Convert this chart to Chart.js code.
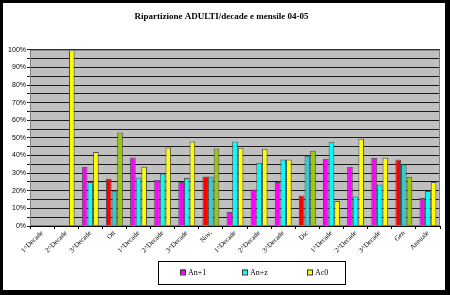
<!DOCTYPE html>
<html>
<head>
<meta charset="utf-8">
<script src="https://cdn.jsdelivr.net/npm/chart.js@4.4.1/dist/chart.umd.min.js"></script>
<style>
  html, body { margin: 0; padding: 0; background: #000; }
  #wrap { position: absolute; left: 3px; top: 3px; width: 442px; height: 287px; background: #fff; }
</style>
</head>
<body>
<div id="wrap"><canvas id="chart" width="442" height="287"></canvas></div>
<script>
const categories = ['1^Decade', '2^Decade', '3^Decade', 'Ott', '1^Decade', '2^Decade', '3^Decade', 'Nov.',
  '1^Decade', '2^Decade', '3^Decade', 'Dic', '1^Decade', '2^Decade', '3^Decade', 'Gen', 'Annuale'];
// monthly totals get their own colours
const isMonth = [false, false, false, true, false, false, false, true, false, false, false, true, false, false, false, true, false];

const anPiu1 = [0, 0, 33.6, 26.8, 38.9, 26.2, 25, 28.1, 8, 20.7, 25, 17.3, 38.1, 33.6, 38.7, 37.8, 15.9];
const anPiuZ = [0, 0, 25, 20, 27.5, 29.8, 27.3, 28.1, 48, 35.9, 37.8, 39.8, 47.8, 16.7, 23.5, 34.9, 19.9];
const ac0 = [0, 100, 42, 53.1, 33.6, 44.6, 48, 44, 44.4, 43.8, 37.8, 42.7, 14.2, 49.5, 38.7, 27.9, 25];

const seriesNames = ['An+1', 'An+z', 'Ac0'];
const seriesColors = ['#ff00ff', '#00ffff', '#ffff00'];
const monthColors = ['#ff0000', '#33cccc', '#99cc00'];

const colorsFor = i => isMonth.map(m => m ? monthColors[i] : seriesColors[i]);

// grey plot background + frame
const plotBg = {
  id: 'plotBg',
  beforeDraw(chart) {
    const { ctx, chartArea: a } = chart;
    ctx.save();
    ctx.fillStyle = '#c0c0c0';
    ctx.fillRect(a.left, a.top, a.width, a.height);
    ctx.restore();
  },
  afterDatasetsDraw(chart) {
    const { ctx, chartArea: a } = chart;
    ctx.save();
    ctx.strokeStyle = '#808080';
    ctx.lineWidth = 1;
    ctx.strokeRect(a.left + 0.5, a.top + 0.5, a.width - 1, a.height - 1);
    ctx.restore();
  }
};

// Excel-like boxed legend at the bottom
const boxLegend = {
  id: 'boxLegend',
  afterDraw(chart) {
    const ctx = chart.ctx;
    const x0 = 155, y0 = 258, w = 187, h = 23;
    ctx.save();
    ctx.strokeStyle = '#000';
    ctx.lineWidth = 1;
    ctx.strokeRect(x0 + 0.5, y0 + 0.5, w, h);
    const xs = [177, 239, 304];
    const cy = y0 + h / 2;
    ctx.font = '8px "Liberation Serif"';
    ctx.textBaseline = 'middle';
    chart.data.datasets.forEach((ds, i) => {
      ctx.fillStyle = seriesColors[i];
      ctx.fillRect(xs[i], cy - 3, 5, 5);
      ctx.strokeStyle = '#333';
      ctx.strokeRect(xs[i] + 0.5, cy - 2.5, 5, 5);
      ctx.fillStyle = '#000';
      ctx.fillText(ds.label, xs[i] + 8, cy);
    });
    ctx.restore();
  }
};

new Chart(document.getElementById('chart').getContext('2d'), {
  type: 'bar',
  data: {
    labels: categories,
    datasets: [anPiu1, anPiuZ, ac0].map((vals, i) => ({
      label: seriesNames[i],
      data: vals,
      backgroundColor: colorsFor(i),
      borderColor: '#505050',
      borderWidth: 1,
      categoryPercentage: 0.7,
      barPercentage: 1.0
    }))
  },
  options: {
    responsive: false,
    animation: false,
    layout: { padding: { left: 0, right: 5, top: 0, bottom: 29 } },
    plugins: {
      legend: { display: false },
      tooltip: { enabled: false },
      title: {
        display: true,
        text: 'Ripartizione ADULTI/decade e mensile 04-05',
        color: '#000',
        font: { family: '"Liberation Serif"', size: 9, weight: 'bold' },
        padding: { top: 8, bottom: 28 }
      }
    },
    scales: {
      y: {
        min: 0,
        max: 100,
        afterFit: s => { s.width = 27; },
        border: { color: '#000' },
        grid: { color: '#1a1a1a', tickLength: 3 },
        ticks: {
          stepSize: 5,
          autoSkip: false,
          maxTicksLimit: 30,
          padding: 1,
          color: '#000',
          font: { family: '"Liberation Sans"', size: 7 },
          callback: v => (v % 10 === 0 ? v + '%' : '')
        }
      },
      x: {
        afterFit: s => { s.height = 35; },
        border: { color: '#000' },
        grid: { drawOnChartArea: false, drawTicks: true, tickLength: 3, color: '#000' },
        ticks: {
          autoSkip: false,
          minRotation: 45,
          maxRotation: 45,
          padding: 0,
          color: '#000',
          font: { family: '"Liberation Serif"', size: 7 }
        }
      }
    }
  },
  plugins: [plotBg, boxLegend]
});
</script>
</body>
</html>
